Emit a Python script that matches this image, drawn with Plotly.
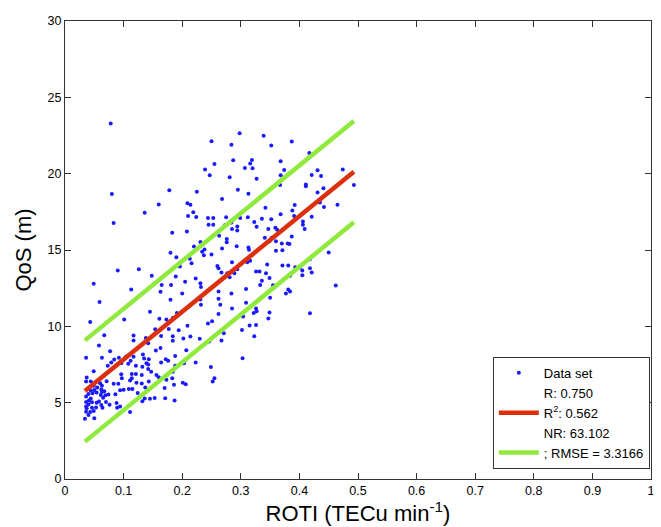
import plotly.graph_objects as go

# ---- data ----
roti = [
0.078,0.080,0.178,0.160,0.136,0.083,
0.183,0.180,0.190,0.090,0.126,0.148,0.189,0.049,0.165,0.181,0.113,0.163,0.059,0.180,
0.145,0.043,0.101,0.161,0.173,0.184,0.191,0.154,0.177,0.194,0.067,0.117,0.164,0.184,
0.117,0.138,0.142,0.184,0.058,0.077,0.155,0.163,
0.036,0.063,0.092,0.104,0.117,0.049,0.073,0.079,0.084,0.096,0.108,0.112,0.121,0.133,
0.135,0.139,0.142,0.143,0.132,0.172,0.176,0.164,0.188,0.188,0.156,0.160,0.173,0.183,
0.184,0.147,0.142,0.131,0.121,0.114,0.114,0.111,0.096,0.097,0.100,0.094,0.109,0.115,
0.124,0.083,0.071,0.063,0.062,0.063,0.067,0.069,0.065,0.061,0.054,0.050,0.044,0.040,
0.036,0.044,0.041,0.036,0.046,0.040,0.054,0.058,0.053,0.046,0.037,0.036,0.043,0.040,
0.034,0.050,0.062,0.064,0.070,0.076,0.074,0.088,0.086,0.091,0.094,0.111,0.089,0.132,
0.136,0.153,0.145,0.170,0.171,0.122,0.131,0.137,0.143,0.037,0.036,0.044,0.049,0.060,
0.055,0.047,0.036,0.049,
0.298,0.339,0.250,0.284,0.352,0.287,0.319,0.316,0.368,0.307,0.320,0.255,0.239,0.374,
0.247,0.281,0.327,0.368,0.367,0.225,0.295,0.313,0.268,0.209,0.214,0.342,0.219,0.210,
0.224,0.244,0.253,0.275,0.299,0.312,0.336,0.352,0.368,0.284,0.323,
0.208,0.245,0.253,0.273,0.285,0.294,0.294,0.327,0.347,0.359,0.362,0.353,0.263,0.276,
0.276,0.231,0.220,0.341,0.349,0.360,0.370,0.380,0.268,0.293,0.313,0.314,0.238,0.234,
0.237,0.250,0.213,0.216,0.196,0.260,0.262,0.285,0.311,0.316,0.345,0.360,0.371,0.381,
0.277,0.289,0.294,0.326,0.332,0.343,0.267,0.223,0.281,0.349,0.336,0.205,0.231,0.333,
0.232,0.309,0.355,0.200,0.262,0.284,0.381,0.377,0.350,0.231,0.262,0.309,0.232,0.265,
0.285,0.326,0.327,0.322,0.349,0.262,0.304,0.347,0.251,0.244,0.209,0.315,0.326,0.302,
0.271,0.214,0.323,0.202,0.230,0.246,0.267,0.207,
0.203,0.223,0.249,0.303,0.255,0.252,0.201,0.206,0.186,0.187,
0.387,0.417,0.474,0.431,0.421,0.437,0.493,0.411,0.411,0.441,0.431,0.435,0.465,0.392,
0.442,0.388,0.391,0.421,0.406,
0.406,0.409,0.387,0.383,0.371,0.450,0.418,0.393,0.401,0.418,0.405,0.421,0.405,0.384,
0.462,0.384,0.418,
]
qos = [
23.29,18.66,18.92,17.98,17.44,16.77,
16.13,14.82,14.52,13.66,13.74,13.31,13.27,12.79,12.71,12.71,12.41,12.26,11.59,11.74,
10.95,10.28,10.45,10.50,10.45,10.54,10.88,9.81,9.83,9.74,9.42,9.40,9.37,9.35,
9.08,9.23,8.90,9.05,8.75,8.37,8.41,8.58,
7.94,7.95,7.94,8.00,8.00,7.05,7.42,7.63,7.83,7.59,7.55,7.74,7.42,8.15,
7.89,7.59,7.50,7.85,7.35,7.85,7.74,7.63,8.06,7.42,6.82,6.67,6.50,6.60,
7.03,7.03,7.20,6.82,6.88,6.88,6.60,6.45,6.86,6.60,5.85,5.81,5.89,5.89,
5.63,6.24,6.41,6.11,5.87,5.70,5.74,5.48,5.33,5.50,5.66,5.83,5.79,5.57,
5.40,5.27,5.14,5.05,5.03,4.88,4.99,5.08,4.69,4.67,4.63,4.41,4.39,4.19,
3.95,3.98,4.84,4.67,5.05,4.86,5.53,4.97,5.55,6.24,4.75,4.39,4.67,5.10,
5.27,5.31,5.25,5.96,5.29,6.30,6.26,6.00,6.39,6.65,6.39,6.39,6.11,6.28,
6.00,5.61,4.75,4.45,
22.65,22.49,22.13,21.89,21.85,20.88,20.90,20.67,20.82,20.37,20.35,20.63,20.28,20.24,
19.89,19.76,19.66,19.89,19.25,18.82,18.95,18.69,18.34,18.06,17.96,17.76,17.48,17.23,
17.16,17.10,17.10,17.14,17.10,17.14,17.05,17.01,17.34,16.80,16.84,
16.21,16.65,16.65,16.62,16.37,16.54,16.28,16.52,16.37,16.45,16.32,15.81,15.94,15.72,
15.50,15.53,15.23,15.81,15.57,15.57,15.42,15.42,15.10,15.25,15.16,15.01,15.03,14.88,
14.65,14.71,14.43,14.13,13.92,13.96,13.81,14.19,14.19,14.30,14.05,14.95,13.98,13.98,
13.48,13.48,13.74,13.59,13.59,13.48,13.53,13.14,13.21,13.16,12.99,12.92,12.82,12.71,
12.58,12.45,12.69,12.15,12.28,12.15,12.41,12.15,11.87,11.76,11.81,11.55,11.42,11.42,
11.16,11.16,10.99,10.88,10.90,10.80,10.65,10.52,10.34,10.19,10.04,10.06,10.08,9.76,
9.55,9.34,9.35,9.21,9.18,9.01,9.08,8.43,
7.59,7.63,7.33,7.91,6.60,6.39,6.30,6.21,6.17,5.14,
22.11,21.35,20.28,20.22,19.92,19.85,19.25,19.29,19.18,19.05,18.77,18.11,17.96,17.94,
17.81,17.59,17.23,17.18,16.86,
16.65,16.37,15.89,15.40,14.99,14.84,14.39,13.87,13.85,13.81,13.66,13.53,13.35,13.31,
12.67,12.28,10.86,
]

# regression statistics shown in the legend
fit_slope = 31.3
fit_intercept = 4.70
rmse = 3.3166
legend_labels = ["Data set", "R: 0.750", "R<sup>2</sup>: 0.562", "NR: 63.102", "; RMSE = 3.3166"]

x_tick_vals = [0, 0.1, 0.2, 0.3, 0.4, 0.5, 0.6, 0.7, 0.8, 0.9, 1]
x_tick_text = ["0", "0.1", "0.2", "0.3", "0.4", "0.5", "0.6", "0.7", "0.8", "0.9", "1"]
y_tick_vals = [0, 5, 10, 15, 20, 25, 30]

# ---- figure ----
xmin, xmax = min(roti), max(roti)
line_x = [xmin, xmax]
fit_y = [fit_slope * v + fit_intercept for v in line_x]
up_y = [v + rmse for v in fit_y]
lo_y = [v - rmse for v in fit_y]

RED = "#dc2f0c"
GREEN = "#8fea3c"
FONT = "Liberation Sans, Arial, Helvetica, sans-serif"

fig = go.Figure()
fig.add_trace(go.Scatter(x=roti, y=qos, mode="markers", name=legend_labels[0],
                         marker=dict(color="#1a1aff", size=4, line=dict(width=0))))
fig.add_trace(go.Scatter(x=[None], y=[None], mode="lines", name=legend_labels[1],
                         line=dict(color="rgba(0,0,0,0)", width=1)))
fig.add_trace(go.Scatter(x=line_x, y=fit_y, mode="lines", name=legend_labels[2],
                         line=dict(color=RED, width=4.5)))
fig.add_trace(go.Scatter(x=[None], y=[None], mode="lines", name=legend_labels[3],
                         line=dict(color="rgba(0,0,0,0)", width=1)))
fig.add_trace(go.Scatter(x=line_x, y=up_y, mode="lines", name=legend_labels[4],
                         line=dict(color=GREEN, width=4.5)))
fig.add_trace(go.Scatter(x=line_x, y=lo_y, mode="lines", showlegend=False,
                         line=dict(color=GREEN, width=4.5)))

axis_common = dict(showline=True, linecolor="#333", linewidth=1, mirror="ticks",
                   ticks="inside", ticklen=6, tickcolor="#333", showgrid=False,
                   zeroline=False, tickfont=dict(size=12.5, color="#000", family=FONT))

fig.update_xaxes(range=[0, 1], tickvals=x_tick_vals, ticktext=x_tick_text,
                 title=dict(text="ROTI (TECu min<sup>-1</sup>)", font=dict(size=22, family=FONT, color="#000"),
                            standoff=5), **axis_common)
fig.update_yaxes(range=[0, 30], tickvals=y_tick_vals,
                 title=dict(text="QoS (m)", font=dict(size=22, family=FONT, color="#000"),
                            standoff=9), **axis_common)

# the page body adds an 8 px margin, so the figure is sized to fit inside it
fig.update_layout(
    width=653, height=519,
    margin=dict(l=57, r=8, t=6, b=48),
    paper_bgcolor="white", plot_bgcolor="white",
    font=dict(family=FONT, color="#000"),
    legend=dict(x=0.998, y=0.022, xanchor="right", yanchor="bottom",
                bgcolor="white", bordercolor="#333", borderwidth=1,
                font=dict(size=13, family=FONT, color="#000"),
                itemwidth=40, tracegroupgap=0, traceorder="normal"),
    showlegend=True,
)

fig.write_html("out.html")
